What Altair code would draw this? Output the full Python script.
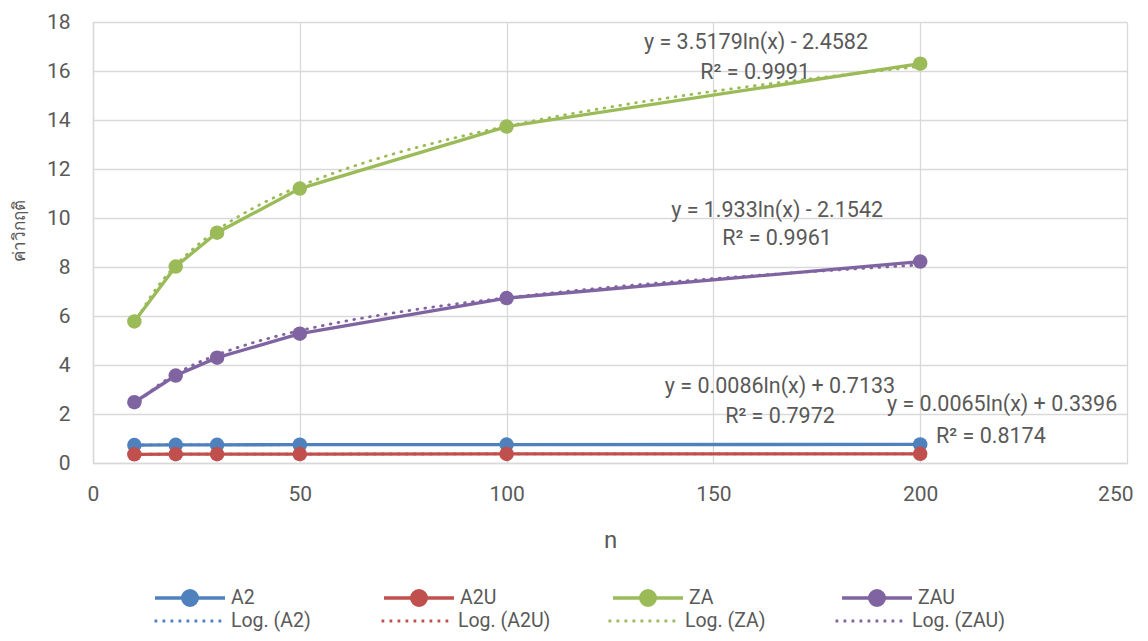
import altair as alt
import pandas as pd

# ---------------- data ----------------
n_values = [10, 20, 30, 50, 100, 200]
series_names = ["A2", "A2U", "ZA", "ZAU"]
a2_values = [0.731, 0.741, 0.742, 0.748, 0.752, 0.758]
a2u_values = [0.354, 0.360, 0.361, 0.366, 0.369, 0.374]
za_values = [5.78, 8.02, 9.40, 11.20, 13.73, 16.30]
zau_values = [2.48, 3.57, 4.30, 5.28, 6.73, 8.22]
trend_names = ["Log. (A2)", "Log. (A2U)", "Log. (ZA)", "Log. (ZAU)"]
series_colors = ["#4F81BD", "#C0504D", "#9BBB59", "#8064A2"]
x_ticks = [0, 50, 100, 150, 200, 250]
y_ticks = [0, 2, 4, 6, 8, 10, 12, 14, 16, 18]

ann_text = [
    "y = 3.5179ln(x) - 2.4582", "R² = 0.9991",
    "y = 1.933ln(x) - 2.1542", "R² = 0.9961",
    "y = 0.0086ln(x) + 0.7133", "R² = 0.7972",
    "y = 0.0065ln(x) + 0.3396", "R² = 0.8174",
]
ann_n = [160.3, 160.1, 165.4, 165.4, 166.1, 166.1, 219.8, 217.1]
ann_v = [17.16, 15.92, 10.30, 9.16, 3.11, 1.89, 2.38, 1.07]

# ---------------- tables ----------------
rows = []
for name, vals in zip(series_names, [a2_values, a2u_values, za_values, zau_values]):
    for n, v in zip(n_values, vals):
        rows.append({"n": n, "value": v, "series": name})
df = pd.DataFrame(rows)
ann_df = pd.DataFrame({"n": ann_n, "value": ann_v, "label": ann_text})

FONT = "Roboto"
TXT = "#595959"
GRID = "#D9D9D9"

x_enc = alt.X(
    "n:Q",
    scale=alt.Scale(domain=[0, 250], nice=False),
    axis=alt.Axis(
        values=x_ticks, title="n", ticks=False, labelFontSize=21, labelColor=TXT,
        labelFont=FONT, labelPadding=20, labelFlush=True, labelFlushOffset=6,
        domainColor=GRID, domainWidth=1.5, gridColor=GRID, gridWidth=1.3,
        titleFontSize=24, titleFont=FONT, titleColor=TXT,
        titleFontWeight="normal", titleBaseline="alphabetic", titleY=84,
    ),
)
y_enc = alt.Y(
    "value:Q",
    scale=alt.Scale(domain=[0, 18], nice=False),
    axis=alt.Axis(
        values=y_ticks, title="ค่าวิกฤติ", ticks=False, labelFontSize=21,
        labelColor=TXT, labelFont=FONT, labelPadding=23, labelFlush=False,
        domainColor=GRID, domainWidth=1.5, gridColor=GRID, gridWidth=1.3,
        titleFontSize=17, titleColor=TXT, titleFontWeight="normal",
        titleX=-74, titleY=208, titleAlign="center", titleBaseline="middle",
        titleAngle=270,
    ),
)

series_path = ("M-1,0H1M0.21,0A0.21,0.21,0,1,1,-0.21,0"
               "A0.21,0.21,0,1,1,0.21,0Z")

series_color = alt.Color(
    "series:N",
    scale=alt.Scale(domain=series_names, range=series_colors),
    legend=alt.Legend(
        orient="none", legendX=60, legendY=564.5, direction="horizontal",
        columns=4, gridAlign="all", columnPadding=113, title=None,
        symbolType=series_path, symbolSize=4900, symbolStrokeWidth=3.3,
        labelFontSize=19.5, labelFont=FONT, labelColor=TXT, labelOffset=4,
        clipHeight=23, padding=0,
    ),
)

base = alt.Chart(df)
lines = base.mark_line(strokeWidth=3.3).encode(x=x_enc, y=y_enc, color=series_color)
points = base.mark_point(filled=True, size=210, opacity=1).encode(
    x=x_enc, y=y_enc, color=series_color
)
series_layer = alt.layer(lines, points)

trend = (
    base.transform_regression("n", "value", method="log", groupby=["series"])
    .transform_calculate(trend="'Log. (' + datum.series + ')'")
    .mark_line(strokeWidth=2.8, strokeDash=[0.8, 7.2], strokeCap="round")
    .encode(
        x=x_enc,
        y=y_enc,
        color=alt.Color(
            "trend:N",
            scale=alt.Scale(domain=trend_names, range=series_colors),
            legend=alt.Legend(
                orient="none", legendX=60, legendY=587.5, direction="horizontal",
                columns=4, gridAlign="all", columnPadding=55, title=None,
                symbolType="stroke", symbolSize=4900, symbolStrokeWidth=2.8,
                symbolDash=[2.8, 5.2], labelFontSize=19.5, labelFont=FONT,
                labelColor=TXT, labelOffset=5, clipHeight=23, padding=0,
            ),
        ),
    )
)

ann = alt.Chart(ann_df).mark_text(
    fontSize=21.5, font=FONT, color=TXT, align="center", baseline="middle"
).encode(x=x_enc, y=y_enc, text="label:N")

chart = (
    alt.layer(series_layer, trend, ann)
    .resolve_scale(color="independent")
    .properties(
        width=1034, height=441,
        autosize=alt.AutoSizeParams(type="none"),
        padding={"left": 85, "top": 14, "right": 13, "bottom": 170},
        background="white",
    )
    .configure_view(stroke=None)
)

chart.save("out.html", embed_options={"renderer": "svg", "actions": False})
